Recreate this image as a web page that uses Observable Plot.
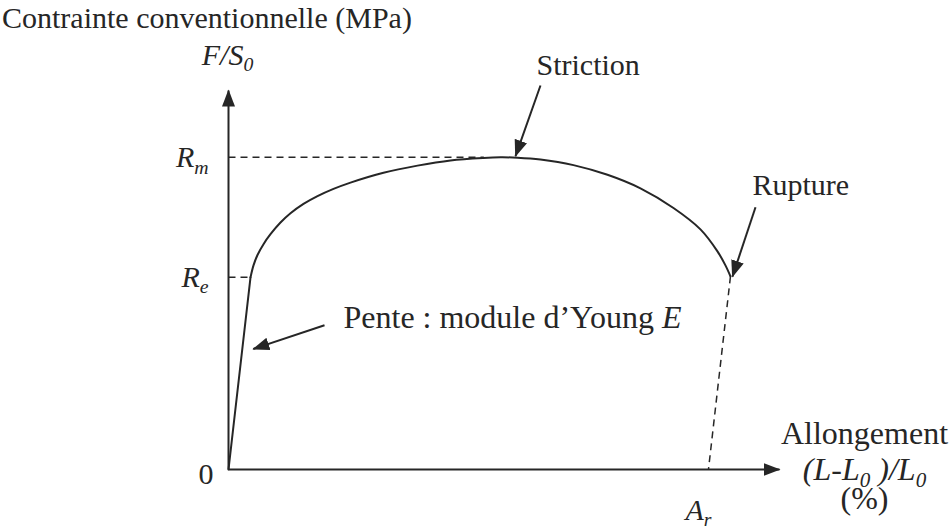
<!DOCTYPE html>
<html><head><meta charset="utf-8">
<script src="https://cdn.jsdelivr.net/npm/d3@7"></script>
<script src="https://cdn.jsdelivr.net/npm/@observablehq/plot@0.6"></script>
<style>
body{margin:0;background:#fff;}
#title{height:36px;line-height:36px;font-size:30px;font-family:"Liberation Serif","Times New Roman",serif;color:#262626;padding-left:2px;white-space:nowrap;}
</style></head><body>
<div id="title">Contrainte conventionnelle (MPa)</div>
<div id="chart"></div>
<script>
// ---- data (strain in %, stress in MPa; schematic values) ----
const xAxisMax = 28.7;
const yAxisMax = 607;
const Rm = 500, Re = 308, Ar = 25;
const elasticStrain = [0, 1.146];
const elasticStress = [0, 307.7];
const plasticStrain = [1.146, 1.302, 1.510, 1.823, 2.188, 2.708, 3.229, 3.906, 4.635, 5.469, 6.354, 8.073, 9.844, 11.563, 13.281, 14.167, 15.052, 16.25, 17.969, 19.74, 21.458, 23.177, 24.583, 25.469, 25.885, 26.146];
const plasticStress = [307.7, 326.9, 343.6, 360.9, 376.8, 395.5, 410.3, 425.3, 437.8, 449.4, 459.5, 475.3, 486.7, 495.0, 499.0, 500, 499.4, 496.5, 487.5, 472.0, 450.3, 418.8, 384.6, 349.4, 326.9, 309.3];
const rmGuideEnd = 13.3;
const yTickValues = [Re, Rm];
const yTickLabels = ["R_{e}", "R_{m}"];
const xTickValues = [Ar];
const xTickLabels = ["A_{r}"];
const originLabel = "0";
const yAxisLabel = "F/S_{0}";
const xAxisLabels = ["Allongement", "(L-L_{0} )/L_{0}", "(%)"];
const notes = ["Striction", "Rupture", "Pente : module d’Young *E*"];
const noteFromX = [16.25, 27.45, 5.0];
const noteFromY = [615, 420, 231];
const noteToX = [14.95, 26.25, 1.29];
const noteToY = [502, 309, 193];

// ---- tables built from the arrays ----
const elastic = elasticStrain.map((x, i) => ({x, y: elasticStress[i]}));
const plastic = plasticStrain.map((x, i) => ({x, y: plasticStress[i]}));
const rupture = plastic[plastic.length - 1];
const axes = [
  {x1: 0, y1: 0, x2: 0, y2: yAxisMax},
  {x1: 0, y1: 0, x2: xAxisMax, y2: 0}
];
const guides = [
  {x1: 0, y1: Rm, x2: rmGuideEnd, y2: Rm},
  {x1: 0, y1: Re, x2: elastic[1].x, y2: Re},
  {x1: rupture.x, y1: rupture.y, x2: Ar, y2: 0}
];
const arrows = notes.map((t, i) => ({text: t, x1: noteFromX[i], y1: noteFromY[i], x2: noteToX[i], y2: noteToY[i]}));
const ink = "#262626";
const font = {fontSize: 30, fill: ink};
const bigFont = {fontSize: 32, fill: ink};

const chart = Plot.plot({
  width: 951, height: 490,
  marginLeft: 228, marginRight: 172, marginTop: 54, marginBottom: 57,
  style: {fontFamily: "'Liberation Serif', 'Times New Roman', serif", background: "white", overflow: "visible"},
  x: {domain: [0, xAxisMax], axis: null},
  y: {domain: [0, yAxisMax], axis: null},
  marks: [
    Plot.link(guides, {x1: "x1", y1: "y1", x2: "x2", y2: "y2", stroke: ink, strokeWidth: 1.5, strokeDasharray: "7,5"}),
    Plot.link(axes, {x1: "x1", y1: "y1", x2: "x2", y2: "y2", stroke: ink, strokeWidth: 2, markerEnd: "arrow"}),
    Plot.line(elastic, {x: "x", y: "y", stroke: ink, strokeWidth: 2}),
    Plot.line(plastic, {x: "x", y: "y", stroke: ink, strokeWidth: 2, curve: "catmull-rom"}),
    Plot.link(arrows, {x1: "x1", y1: "y1", x2: "x2", y2: "y2", stroke: ink, strokeWidth: 2, markerEnd: "arrow"}),
    Plot.text([arrows[0]], {x: "x1", y: "y1", text: "text", textAnchor: "start", lineAnchor: "bottom", dx: -4, dy: -11, ...font}),
    Plot.text([arrows[1]], {x: "x1", y: "y1", text: "text", textAnchor: "start", lineAnchor: "bottom", dx: -3, dy: -12, ...font}),
    Plot.text([arrows[2]], {x: "x1", y: "y1", text: "text", textAnchor: "start", lineAnchor: "bottom", dx: 19, dy: 3, ...bigFont}),
    Plot.text(yTickValues, {x: 0, y: d => d, text: (d, i) => yTickLabels[i], textAnchor: "end", lineAnchor: "middle", dx: -20, fontStyle: "italic", ...font}),
    Plot.text([0], {x: 0, y: 0, text: [originLabel], textAnchor: "end", lineAnchor: "middle", dx: -15, dy: 5, ...font}),
    Plot.text(xTickValues, {x: d => d, y: 0, text: (d, i) => xTickLabels[i], textAnchor: "start", lineAnchor: "bottom", dx: -23, dy: 50, fontStyle: "italic", ...font}),
    Plot.text([yAxisMax], {x: 0, y: d => d, text: [yAxisLabel], textAnchor: "middle", lineAnchor: "bottom", dx: -1, dy: -26, fontStyle: "italic", ...font}),
    Plot.text([xAxisMax], {x: d => d, y: 0, text: [xAxisLabels[0]], textAnchor: "middle", lineAnchor: "bottom", dx: 85, dy: -26, ...bigFont}),
    Plot.text([xAxisMax], {x: d => d, y: 0, text: [xAxisLabels[1]], textAnchor: "middle", lineAnchor: "bottom", dx: 85, dy: 10, fontStyle: "italic", ...bigFont}),
    Plot.text([xAxisMax], {x: d => d, y: 0, text: [xAxisLabels[2]], textAnchor: "middle", lineAnchor: "bottom", dx: 85, dy: 39, ...bigFont})
  ]
});

// filled triangular arrowheads
for (const m of chart.querySelectorAll("marker")) {
  const color = m.getAttribute("stroke") || ink;
  m.setAttribute("viewBox", "-16 -7 18 14");
  m.setAttribute("markerUnits", "userSpaceOnUse");
  m.setAttribute("markerWidth", 18);
  m.setAttribute("markerHeight", 14);
  m.setAttribute("fill", color);
  m.setAttribute("stroke", "none");
  const p = m.querySelector("path");
  if (p) p.setAttribute("d", "M-16,-6.5L1,0L-16,6.5Z");
}

// subscripts (_{..}) and italics (*..*) inside text
const SVGNS = "http://www.w3.org/2000/svg";
for (const g of chart.querySelectorAll("g")) {
  const fsAttr = g.getAttribute("font-size");
  if (!fsAttr) continue;
  const fs = parseFloat(fsAttr);
  for (const t of g.querySelectorAll("text")) {
    const s = t.textContent;
    if (!/_\{|\*/.test(s)) continue;
    t.textContent = "";
    let italic = false, shift = 0;
    for (const part of s.split(/(_\{[^}]*\}|\*)/)) {
      if (!part) continue;
      if (part === "*") { italic = !italic; continue; }
      const ts = document.createElementNS(SVGNS, "tspan");
      let target = 0, txt = part;
      if (part.startsWith("_{")) { txt = part.slice(2, -1); target = 0.22 * fs; ts.setAttribute("font-size", 0.66 * fs); }
      if (target !== shift) { ts.setAttribute("dy", target - shift); shift = target; }
      if (italic) ts.setAttribute("font-style", "italic");
      ts.textContent = txt;
      t.appendChild(ts);
    }
  }
}
document.getElementById("chart").appendChild(chart);
</script></body></html>
